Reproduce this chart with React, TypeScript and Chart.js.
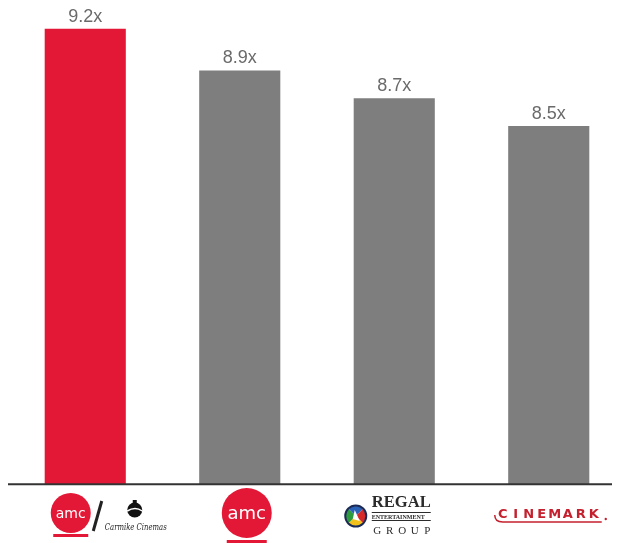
import React, { useEffect, useRef } from "react";
import { Chart, registerables } from "chart.js";

Chart.register(...registerables);

const categories = ["AMC / Carmike Cinemas", "AMC", "Regal Entertainment Group", "Cinemark"];
const multiples = [9.2, 8.9, 8.7, 8.5];
const valueLabels = ["9.2x", "8.9x", "8.7x", "8.5x"];
const barColors = ["#E21836", "#7e7e7e", "#7e7e7e", "#7e7e7e"];

const RED = "#E21836";

const valueLabelPlugin = {
  id: "valueLabels",
  afterDatasetsDraw(chart: any) {
    const ctx = chart.ctx;
    chart.getDatasetMeta(0).data.forEach((bar: any, i: number) => {
      ctx.save();
      ctx.font = '18px "Liberation Sans", Arial, sans-serif';
      ctx.fillStyle = "#6a6a6a";
      ctx.textAlign = "center";
      ctx.textBaseline = "alphabetic";
      ctx.fillText(valueLabels[i], bar.x, bar.y - 7);
      ctx.restore();
    });
  },
};

function amcLogo(ctx: CanvasRenderingContext2D, x: number, y: number, r: number, fontPx: number) {
  ctx.fillStyle = RED;
  ctx.beginPath();
  ctx.arc(x, y, r, 0, Math.PI * 2);
  ctx.fill();
  ctx.fillStyle = "#ffffff";
  ctx.font = `${fontPx}px "DejaVu Sans", sans-serif`;
  ctx.textAlign = "center";
  ctx.textBaseline = "middle";
  ctx.fillText("amc", x, y + 1);
}

const logoPlugin = {
  id: "logos",
  afterDraw(chart: any) {
    const ctx: CanvasRenderingContext2D = chart.ctx;
    const ca = chart.chartArea;
    const by = ca.bottom;
    const bars = chart.getDatasetMeta(0).data;
    ctx.save();

    // axis line
    ctx.strokeStyle = "#333333";
    ctx.lineWidth = 2;
    ctx.beginPath();
    ctx.moveTo(0, by + 0.3);
    ctx.lineTo(chart.width, by + 0.3);
    ctx.stroke();

    // Logo 1: AMC / Carmike
    let cx = bars[0].x;
    amcLogo(ctx, cx - 14.5, by + 29, 20, 14);
    ctx.fillStyle = RED;
    ctx.fillRect(cx - 32, by + 50, 35, 3);
    ctx.strokeStyle = "#222222";
    ctx.lineWidth = 3;
    ctx.beginPath();
    ctx.moveTo(cx + 16.5, by + 17);
    ctx.lineTo(cx + 8, by + 47);
    ctx.stroke();
    // carmike icon
    ctx.fillStyle = "#111111";
    ctx.beginPath();
    ctx.arc(cx + 49.5, by + 26, 7.5, 0, Math.PI * 2);
    ctx.fill();
    ctx.fillRect(cx + 47.5, by + 16, 4, 5);
    ctx.strokeStyle = "#ffffff";
    ctx.lineWidth = 1.5;
    ctx.beginPath();
    ctx.moveTo(cx + 42, by + 27);
    ctx.quadraticCurveTo(cx + 50, by + 22, cx + 57, by + 27);
    ctx.stroke();
    ctx.fillStyle = "#222222";
    ctx.font = 'italic 10px "DejaVu Serif", serif';
    ctx.textAlign = "center";
    ctx.textBaseline = "alphabetic";
    ctx.fillText("Carmike Cinemas", cx + 50.5, by + 46, 62);

    // Logo 2: AMC
    cx = bars[1].x;
    amcLogo(ctx, cx + 7, by + 29, 25, 18);
    ctx.fillStyle = RED;
    ctx.fillRect(cx - 13, by + 56, 40, 3);

    // Logo 3: Regal
    cx = bars[2].x;
    const ex = cx - 38.5, ey = by + 32;
    const wedge = ["#d62a2a", "#f2c21b", "#2e9a3e", "#2a62b8"];
    wedge.forEach((c, i) => {
      ctx.fillStyle = c;
      ctx.beginPath();
      ctx.moveTo(ex, ey);
      ctx.arc(ex, ey, 10, (i * Math.PI) / 2 - Math.PI / 4, ((i + 1) * Math.PI) / 2 - Math.PI / 4);
      ctx.closePath();
      ctx.fill();
    });
    ctx.strokeStyle = "#1a2a55";
    ctx.lineWidth = 2;
    ctx.beginPath();
    ctx.arc(ex, ey, 10.5, 0, Math.PI * 2);
    ctx.stroke();
    ctx.fillStyle = "#ffffff";
    ctx.beginPath();
    ctx.moveTo(ex - 1, ey - 6);
    ctx.lineTo(ex + 4, ey + 5);
    ctx.lineTo(ex - 3, ey + 3);
    ctx.closePath();
    ctx.fill();
    ctx.fillStyle = "#2b2b2b";
    ctx.font = 'bold 17px "Liberation Serif", "DejaVu Serif", serif';
    ctx.textAlign = "left";
    ctx.textBaseline = "alphabetic";
    ctx.fillText("REGAL", cx - 22.5, by + 23, 59);
    ctx.fillRect(cx - 22.5, by + 28, 59, 1);
    ctx.fillRect(cx - 22.5, by + 36, 59, 1);
    ctx.font = 'bold 6px "Liberation Serif", serif';
    ctx.fillText("ENTERTAINMENT", cx - 22.5, by + 35, 59);
    ctx.font = '11px "Liberation Serif", serif';
    ctx.textAlign = "center";
    const group = "GROUP";
    for (let i = 0; i < group.length; i++) {
      ctx.fillText(group[i], cx - 17 + i * 12.5, by + 50);
    }

    // Logo 4: Cinemark
    cx = bars[3].x;
    const cm = "CINEMARK";
    ctx.fillStyle = "#c4202e";
    ctx.font = 'bold 13px "DejaVu Sans", sans-serif';
    ctx.textAlign = "center";
    for (let i = 0; i < cm.length; i++) {
      ctx.fillText(cm[i], cx - 46 + i * 13, by + 34);
    }
    ctx.strokeStyle = "#c4202e";
    ctx.lineWidth = 1.5;
    ctx.beginPath();
    ctx.moveTo(cx - 54, by + 31);
    ctx.quadraticCurveTo(cx - 54, by + 38, cx - 46, by + 38);
    ctx.lineTo(cx + 53, by + 38);
    ctx.stroke();
    ctx.beginPath();
    ctx.arc(cx + 57, by + 35, 1.2, 0, Math.PI * 2);
    ctx.fill();

    ctx.restore();
  },
};

export default function App() {
  const ref = useRef<HTMLCanvasElement>(null);
  useEffect(() => {
    document.documentElement.style.overflow = "hidden";
    const chart = new Chart(ref.current as HTMLCanvasElement, {
      type: "bar",
      data: {
        labels: categories,
        datasets: [
          {
            data: multiples,
            backgroundColor: barColors,
            borderWidth: 0,
            barPercentage: 0.525,
            categoryPercentage: 1,
          },
        ],
      },
      options: {
        responsive: false,
        animation: false,
        layout: { padding: { top: 0, bottom: 59, left: 0, right: 0 } },
        plugins: { legend: { display: false }, tooltip: { enabled: false } },
        scales: {
          x: { display: false },
          y: { display: false, min: 5.92, max: 9.35 },
        },
      },
      plugins: [valueLabelPlugin, logoPlugin],
    });
    return () => chart.destroy();
  }, []);
  return (
    <div style={{ width: 612, height: 535, overflow: "hidden" }}>
      <canvas ref={ref} width={618} height={535} style={{ display: "block", width: 618, height: 535 }} />
    </div>
  );
}
